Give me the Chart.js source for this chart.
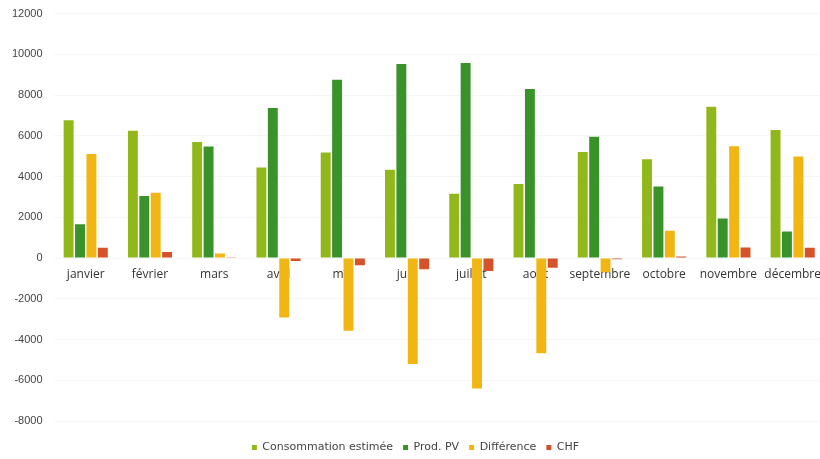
<!DOCTYPE html>
<html>
<head>
<meta charset="utf-8">
<script src="https://cdn.jsdelivr.net/npm/chart.js@4.4.1/dist/chart.umd.min.js"></script>
<style>
html,body{margin:0;padding:0;background:#fff;overflow:hidden;width:820px;height:459px;}
#wrap{position:relative;width:830px;height:463px;margin-top:-4px;}
</style>
</head>
<body>
<div id="wrap"><canvas id="c"></canvas></div>
<script>
const months = ["janvier","février","mars","avril","mai","juin","juillet","août","septembre","octobre","novembre","décembre"];
const consommation = [6770, 6250, 5700, 4440, 5180, 4330, 3160, 3630, 5210, 4850, 7430, 6280];
const prodPV = [1660, 3050, 5480, 7360, 8750, 9530, 9570, 8300, 5950, 3510, 1940, 1300];
const difference = [5110, 3200, 220, -2920, -3570, -5200, -6410, -4670, -700, 1340, 5490, 4980];
const chf = [500, 300, 20, -150, -350, -550, -640, -480, -60, 80, 520, 500];
const yTicks = [-8000, -6000, -4000, -2000, 0, 2000, 4000, 6000, 8000, 10000, 12000];

const legendShift = {
  id: 'legendShift',
  afterLayout(chart) {
    const lg = chart.legend;
    if (lg) { lg.top += 11; lg.bottom += 11; }
  }
};

new Chart(document.getElementById('c'), {
  type: 'bar',
  data: {
    labels: months,
    datasets: [
      {label: 'Consommation estimée', data: consommation, backgroundColor: '#92b71a'},
      {label: 'Prod. PV', data: prodPV, backgroundColor: '#3a932a'},
      {label: 'Différence', data: difference, backgroundColor: '#f1b514'},
      {label: 'CHF', data: chf, backgroundColor: '#d6522b'}
    ]
  },
  plugins: [legendShift],
  options: {
    responsive: true,
    maintainAspectRatio: false,
    animation: false,
    layout: {padding: {top: 2, left: 1, right: 0, bottom: 7}},
    datasets: {bar: {categoryPercentage: 0.71, barPercentage: 0.87}},
    plugins: {
      legend: {
        position: 'bottom',
        labels: {
          usePointStyle: true,
          pointStyle: 'rect',
          boxWidth: 5,
          boxHeight: 5,
          padding: 10,
          color: '#444',
          font: {family: 'DejaVu Sans', size: 11}
        }
      },
      tooltip: {enabled: false}
    },
    scales: {
      x: {
        position: {y: 0},
        grid: {display: false, drawTicks: false},
        border: {display: false},
        ticks: {color: '#333', padding: 9, font: {family: 'Open Sans', size: 12}, maxRotation: 0, autoSkip: false}
      },
      y: {
        min: -8000,
        max: 12000,
        afterBuildTicks: (s) => { s.ticks = yTicks.map(v => ({value: v})); },
        grid: {color: '#f7f7f7', drawTicks: false},
        border: {display: false},
        ticks: {color: '#444', padding: 11, font: {family: 'Liberation Sans', size: 11}, callback: (v) => String(v)}
      }
    }
  }
});
</script>
</body>
</html>
